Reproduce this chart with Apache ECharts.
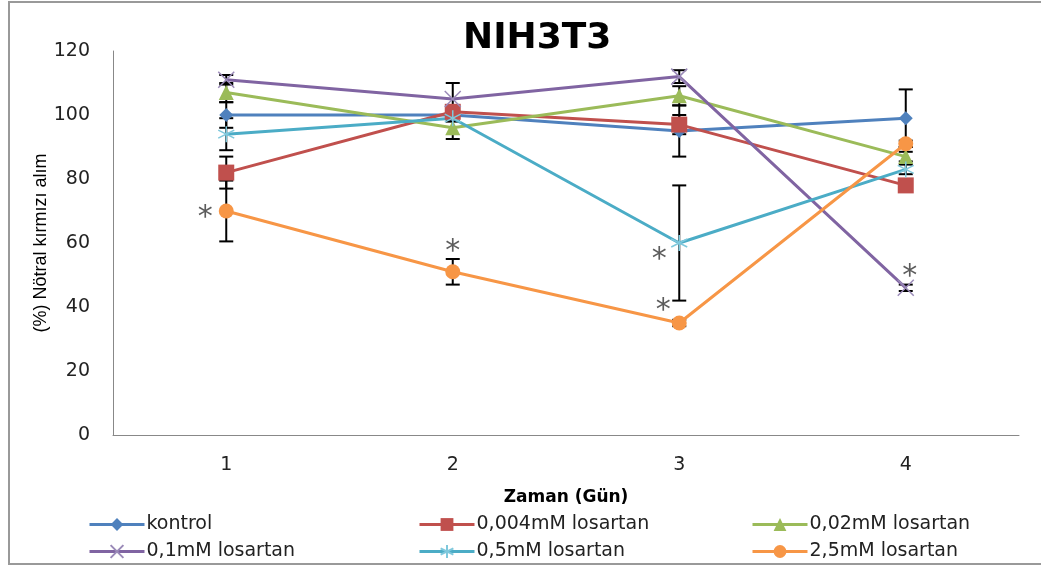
<!DOCTYPE html>
<html>
<head>
<meta charset="utf-8">
<script src="https://cdn.jsdelivr.net/npm/echarts@6/dist/echarts.min.js"></script>
<style>html,body{margin:0;padding:0;background:#fff;}#c{width:1041px;height:567px;}</style>
</head>
<body>
<div id="c"></div>
<script>
// ---- data ----
var days = ['1', '2', '3', '4'];
var seriesNames = ['kontrol', '0,004mM losartan', '0,02mM losartan', '0,1mM losartan', '0,5mM losartan', '2,5mM losartan'];
var kontrol   = [100, 100, 95, 99];
var los0004   = [82, 101, 97, 78];
var los002    = [107, 96, 106, 87];
var los01     = [111, 105, 112, 46];
var los05     = [94, 99, 60, 83];
var los25     = [70, 51, 35, 91];
var errKontrol = [4, 2, 8, 9];
var err0004    = [5, 2, 3, 1];
var err002     = [3, 3.5, 3, 1.5];
var err01      = [1.5, 5, 2, 1];
var err05      = [5, 1, 18, 1.5];
var err25      = [9.5, 4, 1, 1];
// significance markers: [day index, y value]
var asterisks = [[0, 70.5], [1, 60], [2, 57.5], [2, 41.6], [3, 52.2]];
var yTicks = { min: 0, max: 120, interval: 20 };

// ---- style ----
var colors = ['#4F81BD', '#C0504D', '#9BBB59', '#8064A2', '#4BACC6', '#F79646'];
var asteriskOffsets = [[-21, 0], [0, 0], [-20, 0], [-16, 0], [4, 0]];
var values = [kontrol, los0004, los002, los01, los05, los25];
var errs = [errKontrol, err0004, err002, err01, err05, err25];
var symbols = [
  'diamond', 'rect', 'triangle',
  'path://M0,0L10,10M10,0L0,10',
  'path://M5,0L5,10M0,2.5L10,7.5M0,7.5L10,2.5',
  'circle'
];
var symbolSizes = [14, 16, 15, 16, 16, 15];

var series = [];
// error bars
values.forEach(function (v, si) {
  var d = v.map(function (val, i) { return [i, val - errs[si][i], val + errs[si][i]]; });
  series.push({
    type: 'custom',
    name: 'err' + si,
    z: 1,
    silent: true,
    data: d,
    renderItem: function (params, api) {
      var lo = api.coord([api.value(0), api.value(1)]);
      var hi = api.coord([api.value(0), api.value(2)]);
      var hw = 7;
      var st = { stroke: '#000', lineWidth: 2 };
      return {
        type: 'group',
        children: [
          { type: 'line', shape: { x1: lo[0], y1: lo[1], x2: hi[0], y2: hi[1] }, style: st },
          { type: 'line', shape: { x1: lo[0] - hw, y1: lo[1], x2: lo[0] + hw, y2: lo[1] }, style: st },
          { type: 'line', shape: { x1: hi[0] - hw, y1: hi[1], x2: hi[0] + hw, y2: hi[1] }, style: st }
        ]
      };
    }
  });
});
values.forEach(function (v, si) {
  var isPath = si === 3 || si === 4;
  series.push({
    type: 'line',
    name: seriesNames[si],
    data: v,
    z: 3,
    symbol: symbols[si],
    symbolSize: symbolSizes[si],
    showAllSymbol: true,
    lineStyle: { color: colors[si], width: 3 },
    itemStyle: isPath ? { color: colors[si], borderColor: si === 3 ? '#9a8ab8' : '#7fc8dc', borderWidth: 1.5 } : { color: colors[si] }
  });
});
series.push({
  type: 'scatter',
  name: 'sig',
  z: 5,
  silent: true,
  symbolSize: 0,
  data: asterisks.map(function (a, i) {
    return { value: a, label: { offset: [asteriskOffsets[i][0], asteriskOffsets[i][1] + 9] } };
  }),
  label: { show: true, formatter: '*', position: 'inside', fontSize: 30, color: '#333', fontFamily: 'DejaVu Sans' }
});

function legendItem(idx, left, top) {
  return {
    data: [seriesNames[idx]],
    left: left, top: top,
    itemWidth: 55, itemHeight: 16,
    itemGap: 0,
    padding: 0,
    lineStyle: { width: 3 },
    textStyle: { fontFamily: 'DejaVu Sans', fontSize: 19, color: '#222', padding: [0, 0, 0, -3] }
  };
}

var chart = echarts.init(document.getElementById('c'), null, { renderer: 'canvas' });
chart.setOption({
  backgroundColor: '#fff',
  animation: false,
  color: colors,
  title: {
    text: 'NIH3T3',
    left: 458,
    top: 16,
    textStyle: { fontFamily: 'DejaVu Sans', fontWeight: 'bold', fontSize: 36, color: '#000' }
  },
  legend: [
    legendItem(0, 88, 515), legendItem(1, 418, 515), legendItem(2, 751, 515),
    legendItem(3, 88, 542), legendItem(4, 418, 542), legendItem(5, 751, 542)
  ],
  grid: { left: 113, right: 22, top: 51, bottom: 132, containLabel: false },
  xAxis: {
    type: 'category',
    data: days,
    boundaryGap: true,
    axisLine: { lineStyle: { color: '#888', width: 1 } },
    axisTick: { show: false },
    axisLabel: { margin: 21, fontFamily: 'DejaVu Sans', fontSize: 19, color: '#222' },
    name: 'Zaman (Gün)',
    nameLocation: 'middle',
    nameGap: 54,
    nameTextStyle: { fontFamily: 'DejaVu Sans', fontWeight: 'bold', fontSize: 17, color: '#000' }
  },
  yAxis: {
    type: 'value',
    min: yTicks.min, max: yTicks.max, interval: yTicks.interval,
    splitLine: { show: false },
    axisLine: { show: true, lineStyle: { color: '#888', width: 1 } },
    axisTick: { show: false },
    axisLabel: { margin: 23, fontFamily: 'DejaVu Sans', fontSize: 19, color: '#222' },
    name: '(%) Nötral kırmızı alım',
    nameLocation: 'middle',
    nameGap: 63,
    nameMoveOverlap: false,
    nameTextStyle: { fontFamily: "'Liberation Sans Narrow', 'Liberation Sans'", fontSize: 18, color: '#000' }
  },
  graphic: [{
    type: 'rect',
    shape: { x: 9, y: 2, width: 1060, height: 562 },
    style: { fill: 'none', stroke: '#999', lineWidth: 2 },
    silent: true,
    z: -1
  }],
  series: series
});
</script>
</body>
</html>
